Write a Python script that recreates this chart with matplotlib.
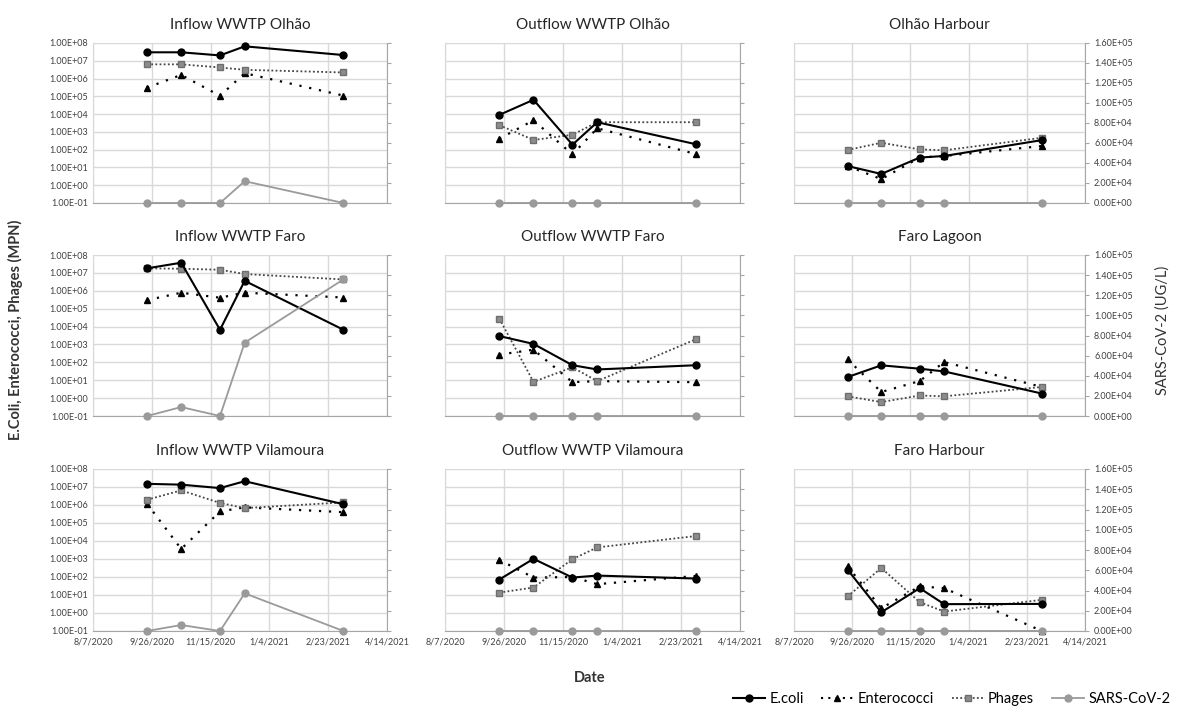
import datetime as dt
import matplotlib
matplotlib.use('Agg')
import matplotlib.pyplot as plt
import matplotlib.dates as mdates
from matplotlib.ticker import FixedLocator, FuncFormatter, NullFormatter, NullLocator

plt.rcParams['font.family'] = ['Lato', 'DejaVu Sans']

# sampling dates (same for every site)
dates = [dt.date(2020, 9, 22), dt.date(2020, 10, 21), dt.date(2020, 11, 23),
         dt.date(2020, 12, 14), dt.date(2021, 3, 8)]

titles = ['Inflow WWTP Olhão', 'Outflow WWTP Olhão', 'Olhão Harbour',
          'Inflow WWTP Faro', 'Outflow WWTP Faro', 'Faro Lagoon',
          'Inflow WWTP Vilamoura', 'Outflow WWTP Vilamoura', 'Faro Harbour']

# MPN, left log axis
ecoli = [[3.0e7, 3.0e7, 2.0e7, 6.5e7, 2.1e7],
         [9.0e3, 6.4e4, 1.9e2, 3.5e3, 2.0e2],
         [12, 4.3, 36, 44, 345],
         [1.8e7, 3.7e7, 6.6e3, 3.6e6, 6.6e3],
         [2.95e3, 1.07e3, 69, 40, 69],
         [15, 68, 44, 31, 1.8],
         [1.5e7, 1.35e7, 8.7e6, 2.1e7, 1.1e6],
         [72, 1.02e3, 93, 120, 82],
         [257, 1.1, 24, 3.1, 3.2]]

entero = [[3.1e5, 1.6e6, 1.07e5, 2.0e6, 1.1e5],
          [410, 4.5e3, 54, 1.6e3, 56],
          [12, 2.2, 36, 44, 160],
          [3.0e5, 7.8e5, 4.1e5, 7.8e5, 4.2e5],
          [270, 510, 7.8, 8.9, 7.8],
          [146, 2.2, 9, 104, 4.2],
          [1.17e6, 3.6e3, 4.4e5, 7.4e5, 4.0e5],
          [900, 93, 100, 40, 115],
          [395, 1.85, 30, 24, 0.1]]

phages = [[6.3e6, 6.3e6, 4.2e6, 3.1e6, 2.2e6],
          [2.4e3, 350, 690, 3.5e3, 3.5e3],
          [96, 245, 104, 92, 465],
          [1.8e7, 1.7e7, 1.5e7, 8.6e6, 4.3e6],
          [2.8e4, 8.1, 53, 8.9, 2.0e3],
          [1.26, 0.6, 1.4, 1.26, 4.2],
          [1.95e6, 6.5e6, 1.3e6, 6.7e5, 1.4e6],
          [13.6, 26, 980, 4.4e3, 1.9e4],
          [8.3, 316, 4.0, 1.2, 5.4]]

# UG/L, right linear axis
sars = [[0, 0, 0, 21800, 0],
        [0, 0, 0, 0, 0],
        [0, 0, 0, 0, 0],
        [0, 8900, 0, 72900, 135800],
        [0, 0, 0, 0, 0],
        [0, 0, 0, 0, 0],
        [0, 5900, 0, 37200, 0],
        [0, 0, 0, 0, 0],
        [0, 0, 0, 0, 0]]

x_ticks = [dt.date(2020, 8, 7) + dt.timedelta(days=50 * i) for i in range(6)]
log_ticks = [10.0 ** e for e in range(-1, 9)]
lin_ticks = [2e4 * i for i in range(9)]

W, H = 1179, 711
col_x = [(93, 387), (445, 740), (794, 1085)]
row_y = [(43, 203), (255, 416), (469, 631)]

GRID = '#d9d9d9'
GRAY = '#9a9a9a'

fig = plt.figure(figsize=(W / 100, H / 100), dpi=100)

for i, title in enumerate(titles):
    r, c = divmod(i, 3)
    x0, x1 = col_x[c]
    y0, y1 = row_y[r]
    ax = fig.add_axes([x0 / W, 1 - y1 / H, (x1 - x0) / W, (y1 - y0) / H])
    ax.set_yscale('log')
    ax.set_ylim(0.1, 1e8)
    ax.set_xlim(x_ticks[0], x_ticks[-1])
    ax.yaxis.set_major_locator(FixedLocator(log_ticks))
    ax.yaxis.set_minor_locator(NullLocator())
    ax.xaxis.set_major_locator(FixedLocator(mdates.date2num(x_ticks)))
    ax.grid(True, color=GRID, lw=1)
    ax.set_axisbelow(True)
    for s in ('top', 'right'):
        ax.spines[s].set_visible(False)
    ax.spines['left'].set_color(GRID)
    ax.spines['bottom'].set_color('#a6a6a6')
    ax.tick_params(length=0, labelsize=6.5, colors='#404040')
    if c == 0:
        ax.yaxis.set_major_formatter(FuncFormatter(lambda v, p: f'{v:.2E}'))
    else:
        ax.yaxis.set_major_formatter(NullFormatter())
    if r == 2:
        ax.xaxis.set_major_formatter(FuncFormatter(
            lambda v, p: (lambda d: f'{d.month}/{d.day}/{d.year}')(mdates.num2date(v))))
        ax.tick_params(axis='x', pad=5)
    else:
        ax.xaxis.set_major_formatter(NullFormatter())

    ax.plot(dates, ecoli[i], '-o', color='black', lw=1.5, ms=5, clip_on=False, zorder=4)
    ax.plot(dates, entero[i], '^', ls=(0, (1, 3.5)), color='black', lw=1.6, ms=5,
            clip_on=False, zorder=3)
    ax.plot(dates, phages[i], 's', ls=(0, (1, 1.3)), color='#444444', lw=1.3, ms=5,
            mfc='#8c8c8c', mec='#6e6e6e', clip_on=False, zorder=3)
    ax.set_title(title, fontsize=11, pad=10, color='#262626')

    ax2 = ax.twinx()
    ax2.set_ylim(0, 1.6e5)
    ax2.yaxis.set_major_locator(FixedLocator(lin_ticks))
    for s in ('top', 'left', 'bottom'):
        ax2.spines[s].set_visible(False)
    ax2.spines['right'].set_color('#a6a6a6')
    ax2.tick_params(axis='y', length=3, color='#a6a6a6', labelsize=6.5, labelcolor='#404040')
    if c == 2:
        ax2.yaxis.set_major_formatter(FuncFormatter(lambda v, p: f'{v:.2E}'))
    else:
        ax2.yaxis.set_major_formatter(NullFormatter())
    ax2.plot(dates, sars[i], '-o', color=GRAY, lw=1.3, ms=5, clip_on=False, zorder=5)

fig.text(15 / W, 1 - 330 / H, 'E.Coli, Enterococci, Phages (MPN)', rotation=90,
         ha='center', va='center', fontsize=10.5, fontweight='bold', color='#333333')
fig.text(1163 / W, 1 - 330 / H, 'SARS-CoV-2 (UG/L)', rotation=90,
         ha='center', va='center', fontsize=10.5, color='#333333')
fig.text(590 / W, 1 - 678 / H, 'Date', ha='center', va='center',
         fontsize=10.5, fontweight='bold', color='#333333')

handles = [
    plt.Line2D([], [], color='black', marker='o', lw=1.5, ms=5),
    plt.Line2D([], [], color='black', marker='^', ls=(0, (1, 2.5)), lw=1.5, ms=5),
    plt.Line2D([], [], color='#444444', marker='s', ls=(0, (1, 1.3)), lw=1.3, ms=5,
               mfc='#8c8c8c', mec='#6e6e6e'),
    plt.Line2D([], [], color=GRAY, marker='o', lw=1.3, ms=5),
]
fig.legend(handles, ['E.coli', 'Enterococci', 'Phages', 'SARS-CoV-2'],
           loc='center right', bbox_to_anchor=(1.0, 1 - 699 / H), ncol=4,
           frameon=False, fontsize=10.5, handlelength=2.2, handletextpad=0.3,
           columnspacing=1.2, borderaxespad=0.2)

fig.savefig('out.png', dpi=100)
